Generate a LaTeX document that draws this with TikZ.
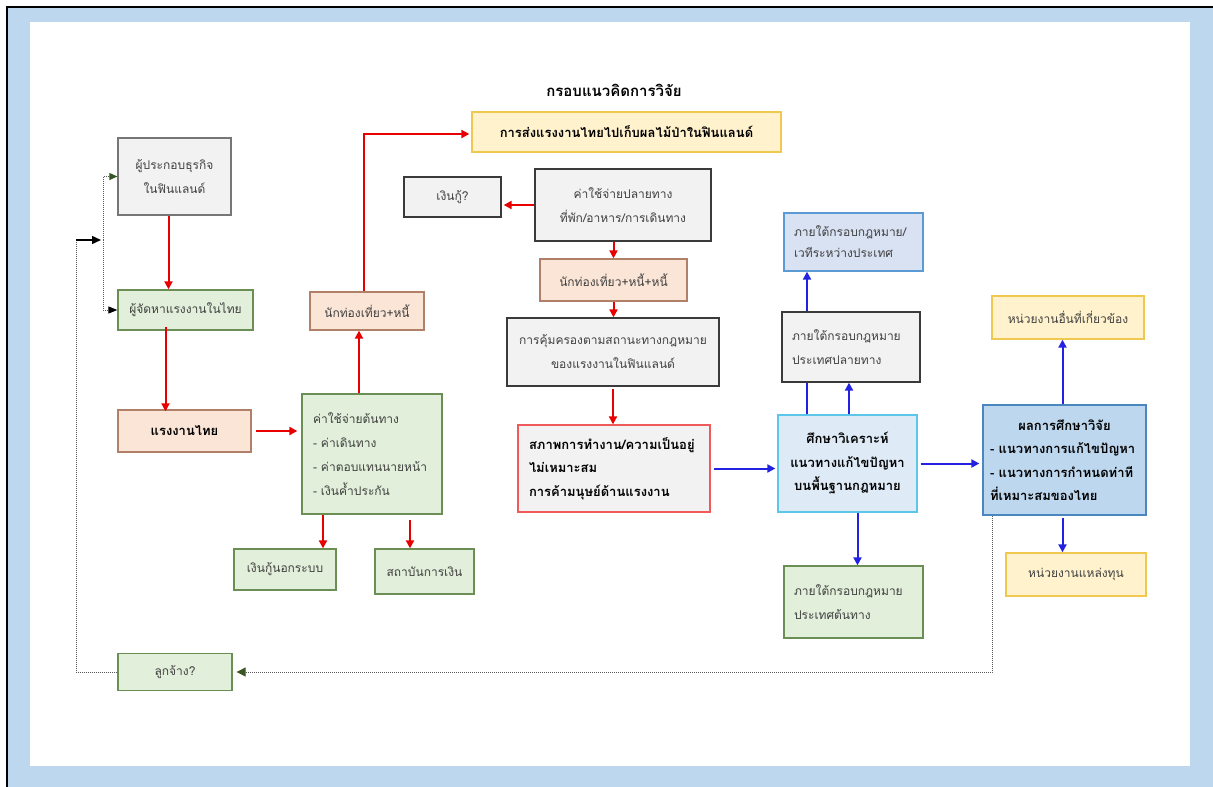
\documentclass[tikz,border=0pt]{standalone}
\usepackage{fontspec}
\setmainfont[Script=Thai]{Loma}
\usetikzlibrary{arrows.meta, calc, positioning}
\definecolor{frameblue}{HTML}{BDD7EE}
\definecolor{grayfill}{HTML}{F2F2F2}
\definecolor{grayline}{HTML}{767676}
\definecolor{darkline}{HTML}{3A3A3A}
\definecolor{greenfill}{HTML}{E2EFDA}
\definecolor{greenline}{HTML}{6B8E55}
\definecolor{pinkfill}{HTML}{FBE5D6}
\definecolor{pinkline}{HTML}{B08068}
\definecolor{yellowfill}{HTML}{FFF2CC}
\definecolor{yellowline}{HTML}{F0C850}
\definecolor{studyfill}{HTML}{DEEBF7}
\definecolor{studyline}{HTML}{5BC5EA}
\definecolor{intlfill}{HTML}{D9E2F3}
\definecolor{intlline}{HTML}{5B9BD5}
\definecolor{resultfill}{HTML}{BDD7EE}
\definecolor{resultline}{HTML}{4A86C0}
\definecolor{condline}{HTML}{F05A5A}
\definecolor{arrred}{HTML}{E80000}
\definecolor{arrblue}{HTML}{2222E0}
\definecolor{loopgreen}{HTML}{375623}
\definecolor{txtgray}{HTML}{404040}
\tikzstyle{box}=[draw, line width=1.3pt, inner sep=0pt, text=txtgray, font=\fontsize{12}{24}\selectfont]
\tikzstyle{graybox}=[box, fill=grayfill, draw=grayline]
\tikzstyle{darkbox}=[box, fill=grayfill, draw=darkline]
\tikzstyle{greenbox}=[box, fill=greenfill, draw=greenline]
\tikzstyle{pinkbox}=[box, fill=pinkfill, draw=pinkline]
\tikzstyle{yelbox}=[box, fill=yellowfill, draw=yellowline]
\tikzstyle{boldtxt}=[text=black, font=\fontsize{13}{23.5}\selectfont\bfseries]
\tikzstyle{redarr}=[draw=arrred, line width=2pt, -{Triangle[length=8pt,width=8pt]}]
\tikzstyle{bluearr}=[draw=arrblue, line width=2pt, -{Triangle[length=8pt,width=8pt]}]
\tikzstyle{loopline}=[draw=gray!70!black, densely dotted, line width=1pt]

\begin{document}
\begin{tikzpicture}[x=1pt, y=-1pt]
\useasboundingbox (0,0) rectangle (1213,787);
\fill[frameblue] (7,7) rectangle (1213,787);
\fill[white] (30,22) rectangle (1190,766);
\draw[line width=2.2pt] (7,787) -- (7,7) -- (1213,7);
\node[font=\fontsize{15}{18}\selectfont\bfseries] (title) at (614,90) {กรอบแนวคิดการวิจัย};
\node[yelbox, boldtxt, minimum width=309, minimum height=40] (send) at (626.5,132) {การส่งแรงงานไทยไปเก็บผลไม้ป่าในฟินแลนด์};
% left column
\node[graybox, minimum width=113, minimum height=77, align=center] (ent) at (174.5,176.5) {ผู้ประกอบธุรกิจ\\ในฟินแลนด์};
\node[greenbox, minimum width=135, minimum height=40] (agent) at (185.5,310) {ผู้จัดหาแรงงานในไทย};
\node[pinkbox, boldtxt, minimum width=133, minimum height=42] (worker) at (184.5,431) {แรงงานไทย};
\node[greenbox, minimum width=114, minimum height=37] (employee) at (175,672) {ลูกจ้าง?};
\node[greenbox, minimum width=140, minimum height=120, text width=118, align=left] (cost0) at (372,454) {ค่าใช้จ่ายต้นทาง\\- ค่าเดินทาง\\- ค่าตอบแทนนายหน้า\\- เงินค้ำประกัน};
\node[pinkbox, minimum width=114, minimum height=38] (tour1) at (367,311) {นักท่องเที่ยว+หนี้};
\node[greenbox, minimum width=102, minimum height=41] (loan) at (285,569.5) {เงินกู้นอกระบบ};
\node[greenbox, minimum width=99, minimum height=45] (bank) at (424.5,571.5) {สถาบันการเงิน};
% middle column
\node[darkbox, minimum width=97, minimum height=40] (borrow) at (452.5,197) {เงินกู้?};
\node[darkbox, minimum width=176, minimum height=72, align=center] (cost1) at (623,205) {ค่าใช้จ่ายปลายทาง\\ที่พัก/อาหาร/การเดินทาง};
\node[pinkbox, minimum width=147, minimum height=42] (tour2) at (613.5,280) {นักท่องเที่ยว+หนี้+หนี้};
\node[darkbox, minimum width=212, minimum height=68, align=center] (protect) at (613,352) {การคุ้มครองตามสถานะทางกฎหมาย\\ของแรงงานในฟินแลนด์};
\node[box, fill=grayfill, draw=condline, boldtxt, minimum width=192, minimum height=87, text width=170, align=left] (cond) at (614,468.5) {สภาพการทำงาน/ความเป็นอยู่\\ไม่เหมาะสม\\การค้ามนุษย์ด้านแรงงาน};
% right part
\node[box, fill=studyfill, draw=studyline, boldtxt, minimum width=139, minimum height=97, align=center] (study) at (847.5,463.5) {ศึกษาวิเคราะห์\\แนวทางแก้ไขปัญหา\\บนพื้นฐานกฎหมาย};
\node[box, fill=intlfill, draw=intlline, minimum width=139, minimum height=58, text width=119, align=left, font=\fontsize{12}{21}\selectfont] (intl) at (853.5,242) {ภายใต้กรอบกฎหมาย/\\เวทีระหว่างประเทศ};
\node[darkbox, minimum width=138, minimum height=70, text width=118, align=left] (dest) at (851,347) {ภายใต้กรอบกฎหมาย\\ประเทศปลายทาง};
\node[greenbox, minimum width=139, minimum height=72, text width=119, align=left] (orig) at (853.5,602) {ภายใต้กรอบกฎหมาย\\ประเทศต้นทาง};
\node[box, fill=resultfill, draw=resultline, boldtxt, minimum width=163, minimum height=110, text width=149, align=left] (result) at (1064.5,460) {\makebox[\linewidth]{ผลการศึกษาวิจัย}\\\mbox{- แนวทางการแก้ไขปัญหา}\\\mbox{- แนวทางการกำหนดท่าที}\\ที่เหมาะสมของไทย};
\node[yelbox, minimum width=152, minimum height=43] (other) at (1068,317.5) {หน่วยงานอื่นที่เกี่ยวข้อง};
\node[yelbox, minimum width=140, minimum height=43] (fund) at (1076,574.5) {หน่วยงานแหล่งทุน};
% loop back
\coordinate (up) at (76,240); \coordinate (fork) at (103,240);
\draw[loopline] (employee.west) -| (up);
\draw[line width=1.5pt, -{Triangle[length=9pt,width=8pt]}] (up) -- ([xshift=-2]fork);
\draw[loopline, -{Triangle[length=8pt,width=7pt,color=loopgreen]}] (fork) |- (ent.west);
\draw[loopline, -{Triangle[length=9pt,width=7pt,color=black]}] (fork) |- (agent.west);
\draw[loopline, -{Triangle[length=9pt,width=9pt,color=loopgreen]}] ([xshift=10]result.south west) |- ([xshift=4]employee.east);
% red arrows
\draw[redarr] ([xshift=-6]ent.south) -- ([xshift=-6]ent.south |- agent.north);
\draw[redarr] ([xshift=-20,yshift=4]agent.south) -- ([xshift=-20,yshift=-2]agent.south |- worker.north);
\draw[redarr, shorten <=4pt, shorten >=4pt] (worker.east) -- (worker.east -| cost0.west);
\draw[redarr] ([xshift=-13]cost0.north) -- ([xshift=-13]cost0.north |- tour1.south);
\draw[redarr, shorten >=2pt] ([xshift=-3]tour1.north) |- ([yshift=-2]send.west);
\draw[redarr] ([xshift=-49]cost0.south) -- ([xshift=-49]cost0.south |- loan.north);
\draw[redarr, shorten <=5pt] ([xshift=38]cost0.south) -- ([xshift=38]cost0.south |- bank.north);
\draw[redarr, shorten >=2pt] (cost1.west) -- (cost1.west -| borrow.east);
\draw[redarr] (tour2.north |- cost1.south) -- (tour2.north);
\draw[redarr] (tour2.south) -- (tour2.south |- protect.north);
\draw[redarr, shorten <=2pt] (protect.south) -- (protect.south |- cond.north);
% blue arrows
\draw[bluearr, shorten <=3pt, shorten >=2pt] (cond.east) -- (cond.east -| study.west);
\draw[bluearr, shorten <=3pt, shorten >=3pt] (study.east) -- (study.east -| result.west);
\draw[draw=arrblue, line width=2pt] ([xshift=-40.5]study.north) -- ([xshift=-40.5]study.north |- dest.south);
\draw[bluearr] ([xshift=-44]dest.north) -- ([xshift=-44]dest.north |- intl.south);
\draw[bluearr] ([xshift=1.5]study.north) -- ([xshift=1.5]study.north |- dest.south);
\draw[bluearr] ([xshift=10]study.south) -- ([xshift=10]study.south |- orig.north);
\draw[bluearr] ([xshift=-2]result.north) -- ([xshift=-2]result.north |- other.south);
\draw[bluearr, shorten <=2pt] ([xshift=-2]result.south) -- ([xshift=-2]result.south |- fund.north);
\end{tikzpicture}
\end{document}
